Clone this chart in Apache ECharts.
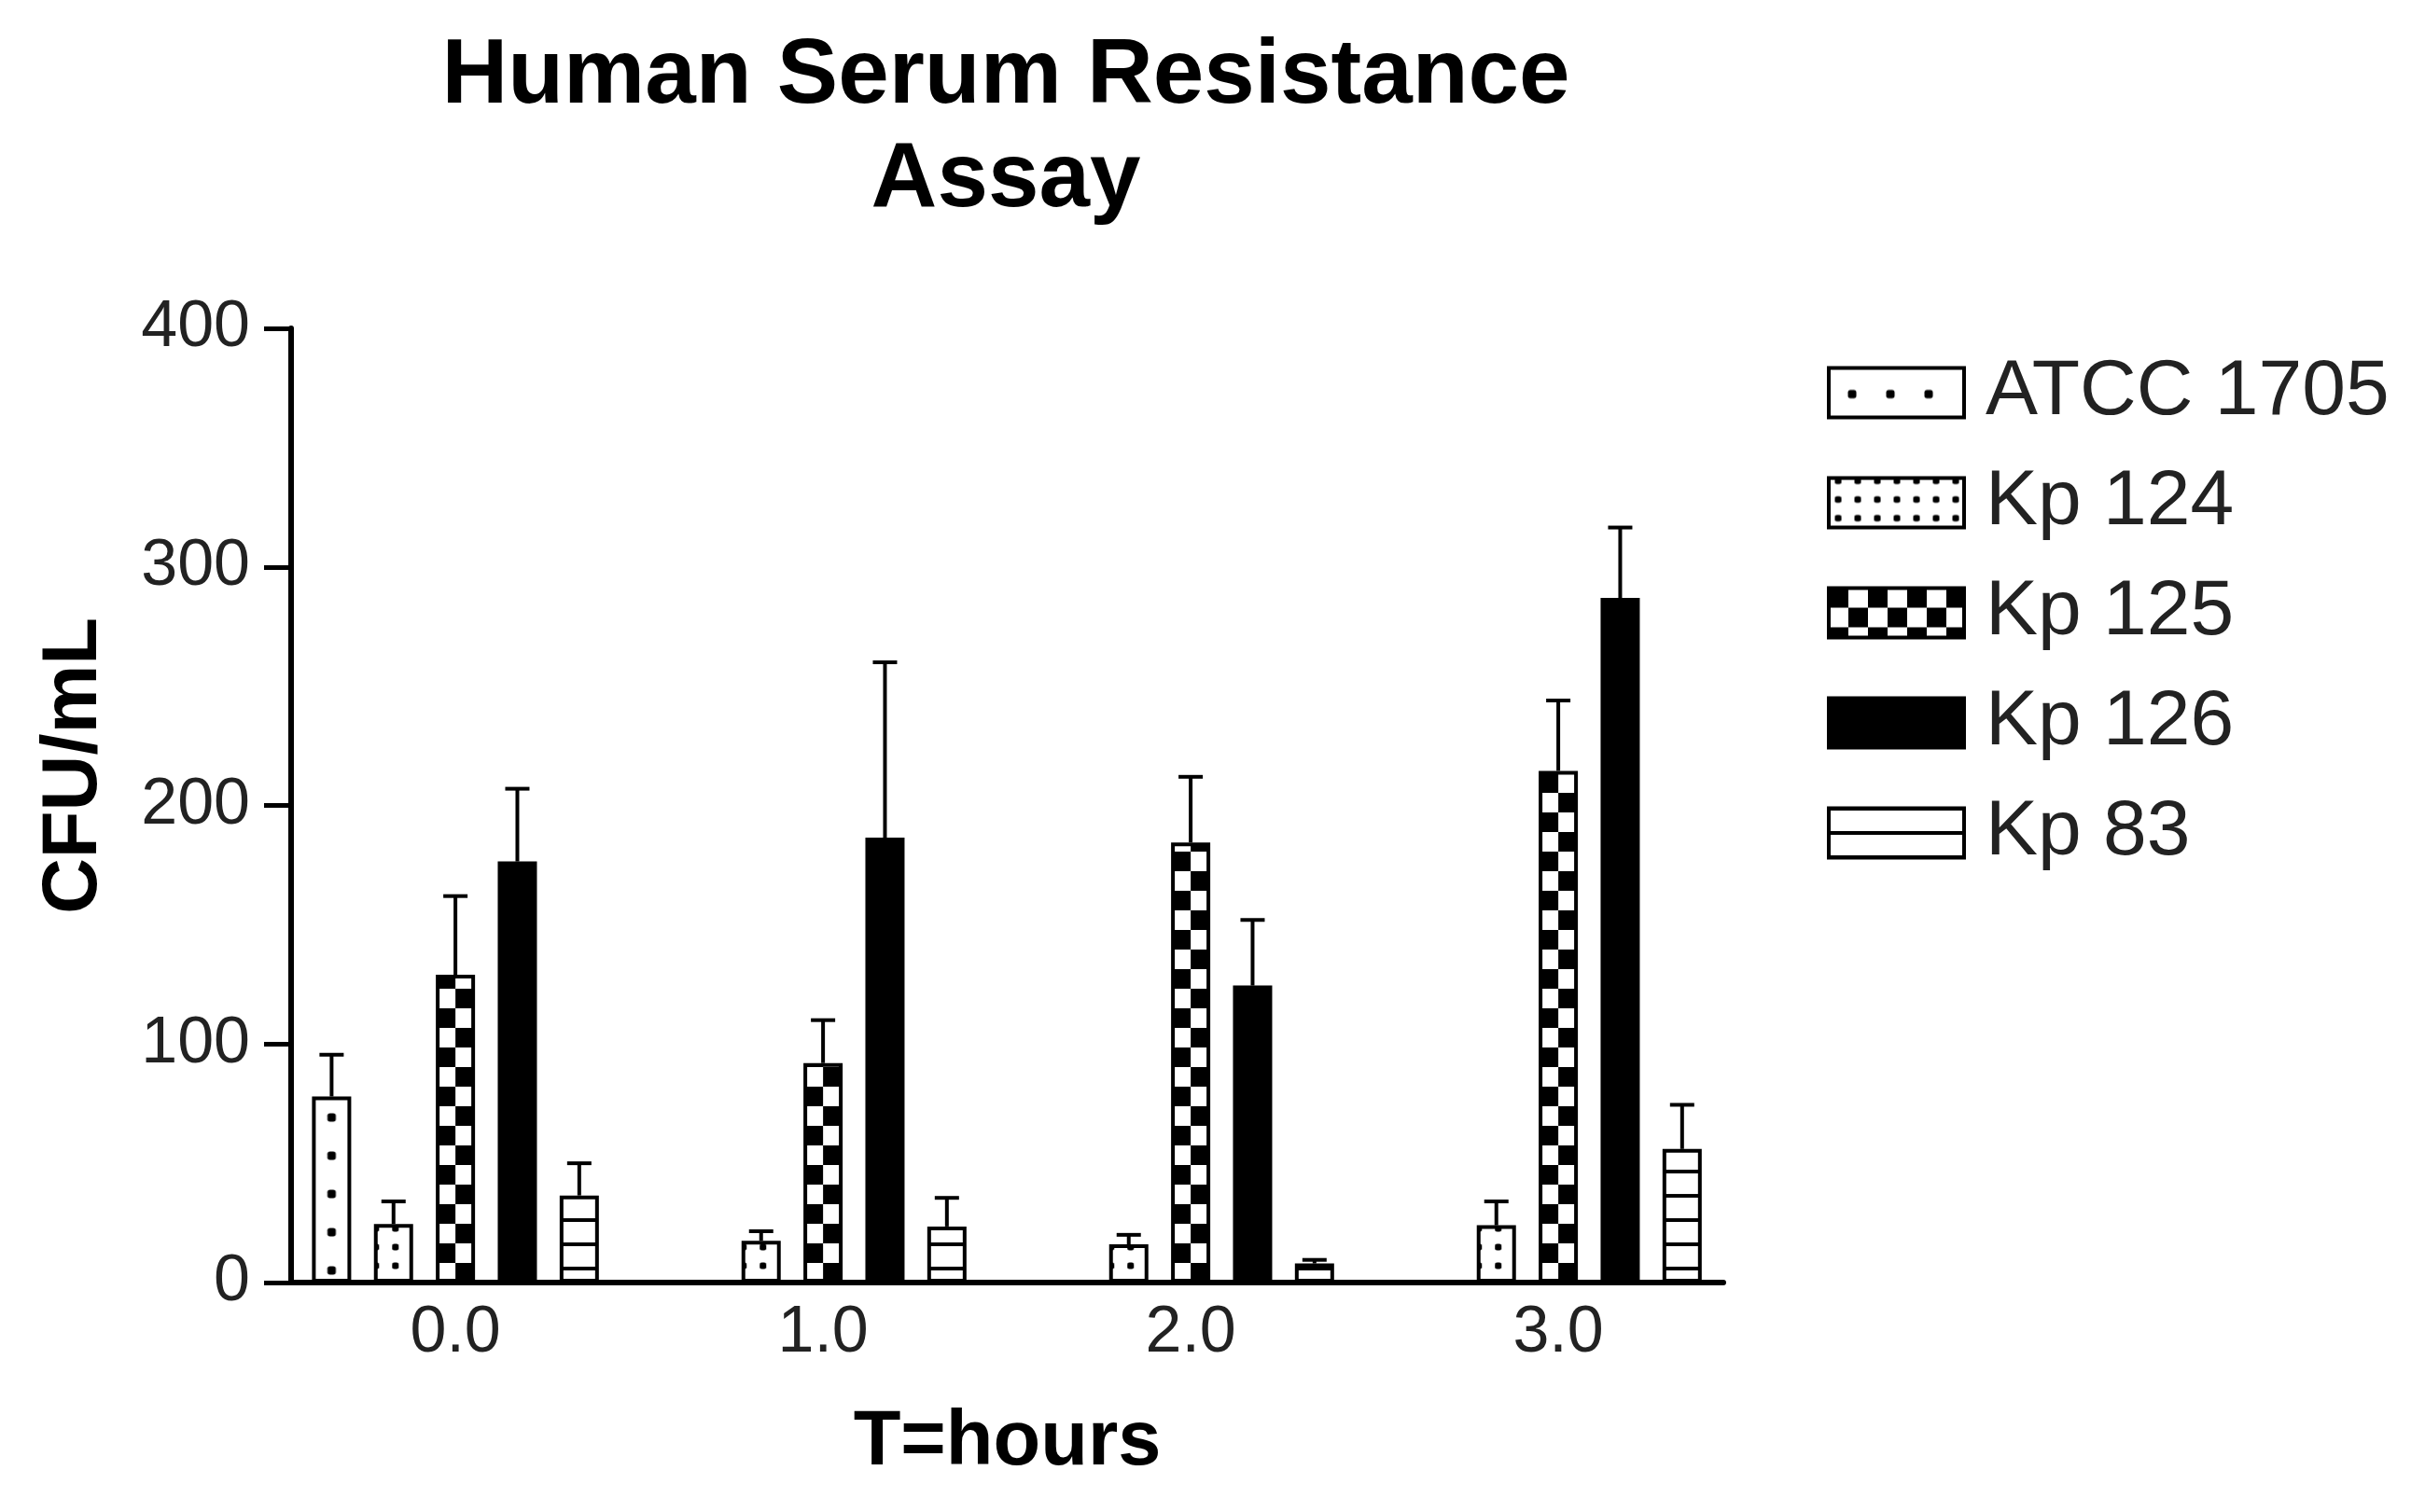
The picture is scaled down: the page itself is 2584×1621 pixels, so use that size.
<!DOCTYPE html>
<html>
<head>
<meta charset="utf-8">
<script src="https://cdn.jsdelivr.net/npm/echarts@6/dist/echarts.min.js"></script>
<style>
html,body{margin:0;padding:0;background:#fff;}
#c{width:2584px;height:1621px;}
</style>
</head>
<body>
<div id="c"></div>
<script>
// ---------------- data ----------------
const timePoints = [0, 1, 2, 3];
const tickLabels = ['0.0', '1.0', '2.0', '3.0'];
const seriesNames = ['ATCC 1705', 'Kp 124', 'Kp 125', 'Kp 126', 'Kp 83'];

const atccMean = [78, null, null, null];
const atccErr  = [17.5, null, null, null];
const kp124Mean = [24.5, 17.5, 16, 24];
const kp124Err  = [9.5, 4, 4, 10];
const kp125Mean = [129, 92, 184.5, 214.5];
const kp125Err  = [33, 18, 27.5, 29.5];
const kp126Mean = [176.5, 186.5, 124.5, 287];
const kp126Err  = [30.5, 73.5, 27.5, 29.5];
const kp83Mean = [36.5, 23.5, 8, 56];
const kp83Err  = [13.5, 12, 1.5, 18.5];

const yTicks = [0, 100, 200, 300, 400];

// ---------------- styling ----------------
const FONT = "'Liberation Sans', Arial, sans-serif";
const BW = 42;            // bar width px
const GAP = 0.58;         // bar gap ratio
const PITCH = BW * (1 + GAP);

const means = [atccMean, kp124Mean, kp125Mean, kp126Mean, kp83Mean];
const errs = [atccErr, kp124Err, kp125Err, kp126Err, kp83Err];

function tile(w, h, draw) {
  const c = document.createElement('canvas');
  c.width = w; c.height = h;
  const g = c.getContext('2d');
  g.fillStyle = '#fff'; g.fillRect(0, 0, w, h);
  g.fillStyle = '#000';
  draw(g);
  return c;
}
function dot(g, cx, cy, s) {
  g.beginPath();
  if (g.roundRect) g.roundRect(cx - s / 2, cy - s / 2, s, s, s * 0.3);
  else g.rect(cx - s / 2, cy - s / 2, s, s);
  g.fill();
}
const tiles = [
  tile(41, 41, g => dot(g, 21, 28, 9)),                       // ATCC: sparse dots
  tile(21, 20, g => dot(g, 10.5, 10, 7)),                      // Kp124: fine dots
  tile(42, 42, g => { g.fillRect(0, 0, 21, 21); g.fillRect(21, 21, 21, 21); }), // checker
  null,                                                        // Kp126 solid
  tile(42, 26, g => g.fillRect(0, 9, 42, 4))                   // Kp83 lines
];
// offsets of the tile anchor relative to bar's (left, bottom)
const barAnchor = [[0, 0], [-8.5, -28], [0, 0], null, [0, 0]];
// offsets inside legend icon
const legendAnchor = [[4, 0], [-0.5, 13], [0, 0], null, [0, 15.5]];

function patternAt(s, x, y) {
  if (!tiles[s]) return '#000';
  return { image: tiles[s], repeat: 'repeat', x: x, y: y };
}

function barData(s) {
  const out = [];
  timePoints.forEach((t, i) => {
    if (means[s][i] != null) out.push([t, means[s][i]]);
  });
  return out;
}
function errData(s) {
  const out = [];
  timePoints.forEach((t, i) => {
    if (means[s][i] != null) out.push([t, means[s][i], errs[s][i]]);
  });
  return out;
}

function errRenderer(s) {
  return function (params, api) {
    const xv = api.value(0), m = api.value(1), e = api.value(2);
    const base = api.coord([xv, m]);
    const top = api.coord([xv, m + e]);
    const cx = base[0] + (s - 2) * PITCH;
    return {
      type: 'group',
      children: [
        { type: 'line', shape: { x1: cx, y1: base[1], x2: cx, y2: top[1] },
          style: { stroke: '#000', lineWidth: 4 } },
        { type: 'line', shape: { x1: cx - 13, y1: top[1], x2: cx + 13, y2: top[1] },
          style: { stroke: '#000', lineWidth: 4 } }
      ]
    };
  };
}

const chart = echarts.init(document.getElementById('c'), null, { renderer: 'canvas' });

const barSeries = seriesNames.map((n, s) => ({
  type: 'bar',
  name: n,
  barWidth: BW,
  barGap: (GAP * 100) + '%',
  data: barData(s).map(v => ({ value: v })),
  itemStyle: { color: s === 3 ? '#000' : '#fff', borderColor: '#000', borderWidth: 4 },
  emphasis: { disabled: true },
  animation: false,
  z: 2
}));
const errSeries = seriesNames.map((n, s) => ({
  type: 'custom',
  name: 'err ' + n,
  renderItem: errRenderer(s),
  data: errData(s),
  silent: true,
  animation: false,
  z: 3
}));

const option = {
  backgroundColor: '#fff',
  animation: false,
  title: {
    text: 'Human Serum Resistance\nAssay',
    left: 1078,
    top: 27,
    padding: 0,
    textAlign: 'center',
    textStyle: { fontSize: 98, fontWeight: 'bold', lineHeight: 111, color: '#000', fontFamily: FONT }
  },
  legend: {
    orient: 'vertical',
    left: 1958,
    top: 379,
    padding: 0,
    itemWidth: 145,
    itemHeight: 53,
    itemGap: 34,
    icon: 'rect',
    selectedMode: false,
    itemStyle: { borderColor: '#000', borderWidth: 4 },
    textStyle: { fontSize: 84, color: '#222', lineHeight: 80, padding: [0, 0, 0, 18], fontFamily: FONT },
    data: seriesNames.map((n, s) => ({
      name: n,
      icon: 'rect',
      itemStyle: {
        color: legendAnchor[s] ? patternAt(s, legendAnchor[s][0], legendAnchor[s][1]) : '#000',
        borderColor: '#000', borderWidth: 4
      }
    }))
  },
  grid: { left: 312, right: 737, top: 352, bottom: 246, containLabel: false, outerBoundsMode: 'none' },
  xAxis: {
    type: 'value',
    min: -0.447,
    max: 3.449,
    axisLine: { show: true, onZero: false, lineStyle: { color: '#000', width: 6 } },
    axisTick: { show: false },
    splitLine: { show: false },
    axisLabel: {
      customValues: timePoints,
      formatter: v => tickLabels[timePoints.indexOf(v)] ?? '',
      fontSize: 70, color: '#222', margin: 20, fontFamily: FONT
    },
    name: 'T=hours',
    nameLocation: 'middle',
    nameGap: 131,
    nameTextStyle: { fontSize: 83, fontWeight: 'bold', color: '#000', fontFamily: FONT }
  },
  yAxis: {
    type: 'value',
    min: yTicks[0],
    max: yTicks[yTicks.length - 1],
    interval: 100,
    axisLine: { show: true, onZero: false, lineStyle: { color: '#000', width: 6 } },
    axisTick: { show: true, length: 29, lineStyle: { color: '#000', width: 5 } },
    splitLine: { show: false },
    axisLabel: { fontSize: 70, color: '#222', margin: 44, fontFamily: FONT },
    name: 'CFU/mL',
    nameLocation: 'middle',
    nameGap: 190,
    nameTextStyle: { fontSize: 83, fontWeight: 'bold', color: '#000', fontFamily: FONT, padding: [0, 0, 0, 85] }
  },
  series: barSeries.concat(errSeries)
};

chart.setOption(option);

// second pass: anchor each bar's fill pattern to the bar's own bottom-left corner
const update = seriesNames.map((n, s) => ({
  data: barData(s).map(v => {
    const p = chart.convertToPixel({ gridIndex: 0 }, [v[0], 0]);
    const left = p[0] + (s - 2) * PITCH - BW / 2;
    const bottom = p[1];
    const a = barAnchor[s];
    return {
      value: v,
      itemStyle: { color: a ? patternAt(s, left + a[0], bottom + a[1]) : '#000' }
    };
  })
}));
chart.setOption({ series: update });
</script>
</body>
</html>
